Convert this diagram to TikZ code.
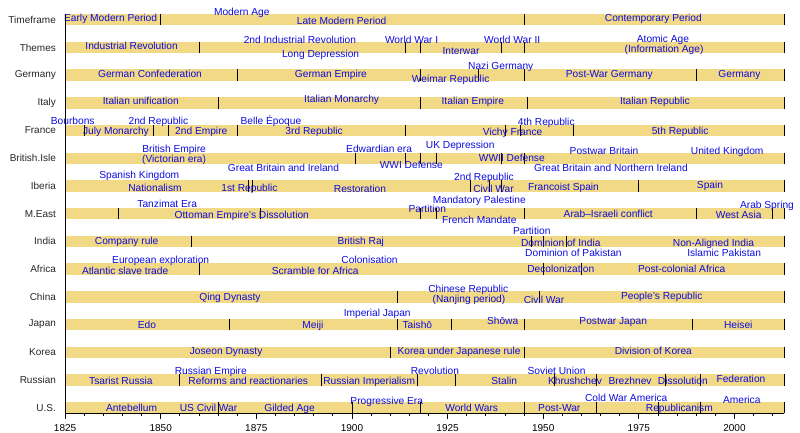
\documentclass[tikz,border=0pt]{standalone}
\usepackage{fontspec}
\setmainfont{Liberation Sans}
\usepackage{tikz}

\definecolor{barfill}{RGB}{242,217,133}
\definecolor{lblblue}{RGB}{12,12,225}

% row centre (pixels from top) of row #1
\newcommand{\rowy}[1]{19.8+#1*27.7}
% dividers inside row #1 at the years #2
\newcommand{\seps}[2]{\foreach \d in {#2} \draw[sep] (\d,{\rowy{#1}-5.7}) -- (\d,{\rowy{#1}+5.7});}

\begin{document}
\begin{tikzpicture}[
    x=3.825pt, y=-1pt,
    bar/.style={fill=barfill},
    sep/.style={black, line width=0.9pt},
    lbl/.style={font=\fontsize{10.2}{12}\selectfont, text=lblblue, inner sep=0pt, text height=7.3pt, text depth=2.1pt, yshift=-1.3pt},
    rowlbl/.style={font=\fontsize{10}{12}\selectfont, text=black!85, anchor=east, inner sep=0pt, xshift=-9pt},
    axis/.style={black, line width=0.9pt},
    yrlbl/.style={font=\fontsize{10}{12}\selectfont, inner sep=0pt},
]
\useasboundingbox (1808.007,0) rectangle (2017.157,433);

% Bars and row names
\foreach \rname [count=\i from 0] in {Timeframe,Themes,Germany,Italy,France,British.Isle,Iberia,M.East,India,Africa,China,Japan,Korea,Russian,U.S.} {
    \fill[bar] (1825,{\rowy{\i}-5.7}) rectangle (2013,{\rowy{\i}+5.7});
    \draw[sep] (2013,{\rowy{\i}-5.7}) -- (2013,{\rowy{\i}+5.7});
    \node[rowlbl] (row-\i) at (1825,{\rowy{\i}}) {\rname};
}

% Period dividers
\seps{0}{1850,1945}
\seps{1}{1860,1914,1918,1939,1945}
\seps{2}{1870,1918,1933,1945,1990}
\seps{3}{1865,1918,1946}
\seps{4}{1830,1848,1852,1870,1914,1940,1944,1958}
\seps{5}{1901,1914,1918,1922,1939,1945}
\seps{6}{1873,1874,1931,1936,1939,1975}
\seps{7}{1839,1876,1918,1922,1945,1990,2010}
\seps{8}{1858,1947,1950,1956}
\seps{9}{1860,1950,1960}
\seps{10}{1912,1949}
\seps{11}{1868,1912,1926,1945,1989}
\seps{12}{1910,1945}
\seps{13}{1855,1892,1917,1927,1953,1964,1982,1991}
\seps{14}{1865,1900,1918,1945,1964,1980,1991}

% Timeframe
\foreach \x/\y/\t [count=\k] in {1836.9/18/Early Modern Period, 1871.2/11.7/Modern Age,
    1897.3/21/Late Modern Period, 1978.8/18/Contemporary Period}
    \node[lbl] (tf-\k) at (\x,\y) {\t};

% Themes
\foreach \x/\y/\t [count=\k] in {1842.4/46/Industrial Revolution, 1886.4/39.3/2nd Industrial Revolution,
    1891.8/53.3/Long Depression, 1915.6/39.5/World War I, 1928.5/50.3/Interwar,
    1941.9/39.3/World War II, 1981.3/38.7/Atomic Age, 1981.6/48.7/{(Information Age)}}
    \node[lbl] (th-\k) at (\x,\y) {\t};

% Germany
\foreach \x/\y/\t [count=\k] in {1847.2/74/German Confederation, 1894.5/74/German Empire,
    1925.8/78.3/Weimar Republic, 1938.9/66/Nazi Germany, 1967.3/74/Post-War Germany,
    2001.3/74/Germany}
    \node[lbl] (de-\k) at (\x,\y) {\t};

% Italy
\foreach \x/\y/\t [count=\k] in {1844.8/101/Italian unification, 1897.3/98.7/Italian Monarchy,
    1931.6/101/Italian Empire, 1979.2/101/Italian Republic}
    \node[lbl] (it-\k) at (\x,\y) {\t};

% France
\foreach \x/\y/\t [count=\k] in {1827.0/121/Bourbons, 1838.3/131/July Monarchy,
    1849.4/121/2nd Republic, 1860.6/131/2nd Empire, 1878.8/121/Belle Époque,
    1890.1/131/3rd Republic, 1942.0/131.7/Vichy France, 1950.8/121.7/4th Republic,
    1985.8/131/5th Republic}
    \node[lbl] (fr-\k) at (\x,\y) {\t};

% British Isles
\foreach \x/\y/\t [count=\k] in {1853.5/148.3/British Empire, 1853.5/158.3/{(Victorian era)},
    1882.1/167.3/Great Britain and Ireland, 1907.1/149/Edwardian era, 1915.5/164.3/WWI Defense,
    1928.3/144.3/UK Depression, 1941.8/157.3/WWII Defense, 1965.9/151/Postwar Britain,
    1967.7/167.3/Great Britain and Northern Ireland, 1998.1/151/United Kingdom}
    \node[lbl] (gb-\k) at (\x,\y) {\t};

% Iberia
\foreach \x/\y/\t [count=\k] in {1844.4/175/Spanish Kingdom, 1848.5/187.3/Nationalism,
    1873.2/187.3/1st Republic, 1902.1/189/Restoration, 1934.5/176.7/2nd Republic,
    1937.0/188.3/Civil War, 1955.3/187/Francoist Spain, 1993.6/185/Spain}
    \node[lbl] (ib-\k) at (\x,\y) {\t};

% Middle East
\foreach \x/\y/\t [count=\k] in {1851.7/204/Tanzimat Era, 1871.2/214.3/Ottoman Empire's Dissolution,
    1919.7/208.3/Partition, 1933.3/199.3/Mandatory Palestine, 1933.3/219.3/French Mandate,
    1967.0/214/Arab--Israeli conflict, 2001.1/214.3/West Asia, 2008.5/204.3/Arab Spring}
    \node[lbl] (me-\k) at (\x,\y) {\t};

% India
\foreach \x/\y/\t [count=\k] in {1841.1/240.7/Company rule, 1902.3/240.7/British Raj,
    1947.0/231/Partition, 1954.6/242.3/Dominion of India, 1957.9/252.3/Dominion of Pakistan,
    1994.5/242.3/Non-Aligned India, 1997.3/252.3/Islamic Pakistan}
    \node[lbl] (in-\k) at (\x,\y) {\t};

% Africa
\foreach \x/\y/\t [count=\k] in {1850.0/260/European exploration, 1840.7/270.7/Atlantic slave trade,
    1890.4/270.7/Scramble for Africa, 1904.6/260/Colonisation, 1954.6/268.3/Decolonization,
    1986.2/268.3/Post-colonial Africa}
    \node[lbl] (af-\k) at (\x,\y) {\t};

% China
\foreach \x/\y/\t [count=\k] in {1868.1/296.7/Qing Dynasty, 1930.4/288.3/Chinese Republic,
    1930.6/299/{(Nanjing period)}, 1950.2/299.3/Civil War, 1981.0/296/People's Republic}
    \node[lbl] (cn-\k) at (\x,\y) {\t};

% Japan
\foreach \x/\y/\t [count=\k] in {1846.4/324.3/Edo, 1889.8/324.3/Meiji, 1906.6/313/Imperial Japan,
    1917.1/325/Taishō, 1939.4/321/Shōwa, 1968.3/321/Postwar Japan, 2001.0/324.3/Heisei}
    \node[lbl] (jp-\k) at (\x,\y) {\t};

% Korea
\foreach \x/\y/\t [count=\k] in {1867.1/351/Joseon Dynasty, 1928.0/351/Korea under Japanese rule,
    1978.8/351/Division of Korea}
    \node[lbl] (kr-\k) at (\x,\y) {\t};

% Russia
\foreach \x/\y/\t [count=\k] in {1863.1/371/Russian Empire, 1839.6/381/Tsarist Russia,
    1872.9/381/Reforms and reactionaries, 1904.5/381/Russian Imperialism, 1921.7/371/Revolution,
    1939.8/381/Stalin, 1953.5/371/Soviet Union, 1958.3/381/Khrushchev, 1972.7/381/Brezhnev,
    1986.5/381/Dissolution, 2001.7/379/Federation}
    \node[lbl] (ru-\k) at (\x,\y) {\t};

% United States
\foreach \x/\y/\t [count=\k] in {1842.4/407.7/Antebellum, 1862.5/407.7/US Civil War,
    1883.7/408/Gilded Age, 1909.1/401/Progressive Era, 1931.3/407.7/World Wars,
    1954.2/407.7/Post-War, 1971.7/397.5/Cold War America, 1985.6/407.7/Republicanism,
    2001.9/399.3/America}
    \node[lbl] (us-\k) at (\x,\y) {\t};

% Axes and ticks
\coordinate (top) at (1825,14);
\coordinate (orig) at (1825,413.3);
\coordinate (tail) at (2013,413.3);
\draw[axis] (top) -- (orig) -- (tail);
\foreach \yr in {1830,1835,...,2010}
    \draw[axis] (\yr,413.3) -- (\yr,416);
\foreach \yr in {1825,1850,...,2000} {
    \draw[axis] (\yr,413.3) -- (\yr,418.5);
    \node[yrlbl] (yr-\yr) at (\yr,428) {\yr};
}

\end{tikzpicture}
\end{document}
